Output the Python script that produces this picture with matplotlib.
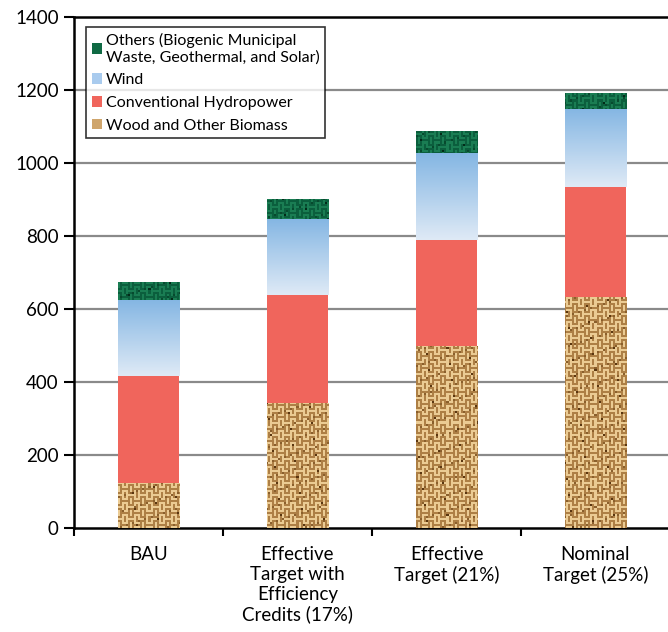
import numpy as np
import matplotlib.pyplot as plt
from matplotlib.patches import Patch
from matplotlib.colors import LinearSegmentedColormap, ListedColormap

plt.rcParams['font.family'] = ['Lato', 'DejaVu Sans']

categories = ['BAU', 'Effective\nTarget with\nEfficiency\nCredits (17%)',
              'Effective\nTarget (21%)', 'Nominal\nTarget (25%)']
wood = [123, 342, 499, 633]
hydro = [293, 296, 290, 301]
wind = [209, 209, 238, 214]
others = [49, 54, 61, 44]

labels = ['Others (Biogenic Municipal\nWaste, Geothermal, and Solar)', 'Wind',
          'Conventional Hydropower', 'Wood and Other Biomass']

W, H = 668, 632
fig = plt.figure(figsize=(W / 100, H / 100), dpi=100)
ax = fig.add_axes([74 / W, 104 / H, 596 / W, 511 / H])


def weave(shades, ny=511, nx=596):
    # basket-weave texture: blocks of horizontal / vertical threads, 2 px each
    i, j = np.mgrid[0:ny, 0:nx]
    blk = ((i // 6) + (j // 6)) % 2
    stripe = np.where(blk == 0, (i // 2) % 2, (j // 2) % 2)
    img = np.where(stripe == 0, 2, 1)
    img = np.where(((i // 2) * 7 + (j // 2) * 13) % 23 == 0, 3, img)
    img = np.where(((i // 2) * 11 + (j // 2) * 5) % 83 == 0, 0, img)
    return img, ListedColormap(shades)


wood_img, wood_cmap = weave(['#5a3610', '#ad7f45', '#ebcb93', '#8a5f2c'])
oth_img, oth_cmap = weave(['#022a18', '#0b5e3d', '#1a7d53', '#074a2e'])
grad = np.linspace(0, 1, 256).reshape(-1, 1)
wind_cmap = LinearSegmentedColormap.from_list('wind', ['#dfeaf6', '#84b6e3'])

x = np.arange(len(categories))
w = 0.41
bottom2 = np.add(wood, hydro)
bottom3 = bottom2 + np.array(wind)
wood_bars = ax.bar(x, wood, w, color='#d8b27c', lw=0, zorder=3)
hydro_bars = ax.bar(x, hydro, w, bottom=wood, color='#f0655c', lw=0, zorder=3)
wind_bars = ax.bar(x, wind, w, bottom=bottom2, color='none', lw=0, zorder=3)
oth_bars = ax.bar(x, others, w, bottom=bottom3, color='#0f6a44', lw=0, zorder=3)


def fill(bars, img, cmap, full=False):
    for b in bars:
        x0, y0 = b.get_x(), b.get_y()
        if full:
            ext = (-0.5, 3.5, 0, 1400)
        else:
            ext = (x0, x0 + b.get_width(), y0, y0 + b.get_height())
        im = ax.imshow(img, cmap=cmap, aspect='auto', origin='lower', extent=ext,
                       interpolation='nearest', zorder=3.5)
        im.set_clip_path(b)


fill(wood_bars, wood_img, wood_cmap, full=True)
fill(oth_bars, oth_img, oth_cmap, full=True)
fill(wind_bars, grad, wind_cmap)

ax.set_xlim(-0.5, 3.5)
ax.set_ylim(0, 1400)
ax.set_yticks(range(0, 1401, 200))
for yv in range(200, 1400, 200):
    ax.axhline(yv, color='#8a8a8a', lw=1.6, zorder=1)

ax.set_xticks(x)
ax.set_xticklabels(categories, fontsize=13.5, linespacing=1.2)
ax.set_xticks(np.arange(-0.5, 4, 1), minor=True)
ax.tick_params(axis='x', which='major', length=0, pad=13)
ax.tick_params(axis='x', which='minor', length=6, width=1.5, direction='out')
ax.tick_params(axis='y', length=7, width=1.5, labelsize=13.5, pad=4)
for s in ['left', 'bottom', 'top']:
    ax.spines[s].set_linewidth(1.8)
    ax.spines[s].set_color('black')
ax.spines['right'].set_visible(False)

handles = [Patch(facecolor='#0f6a44'), Patch(facecolor='#a9cbee'),
           Patch(facecolor='#f0655c'), Patch(facecolor='#cfa56c')]
leg = ax.legend(handles, labels, loc='upper left', bbox_to_anchor=(12 / 596, 1 - 10 / 511),
                fontsize=11.5, frameon=True, fancybox=False, edgecolor='black',
                handlelength=0.65, handleheight=0.65, handletextpad=0.25,
                borderpad=0.35, labelspacing=0.55, borderaxespad=0)
leg.get_frame().set_linewidth(1.2)
leg.set_zorder(5)

fig.savefig('out.png', dpi=100)
